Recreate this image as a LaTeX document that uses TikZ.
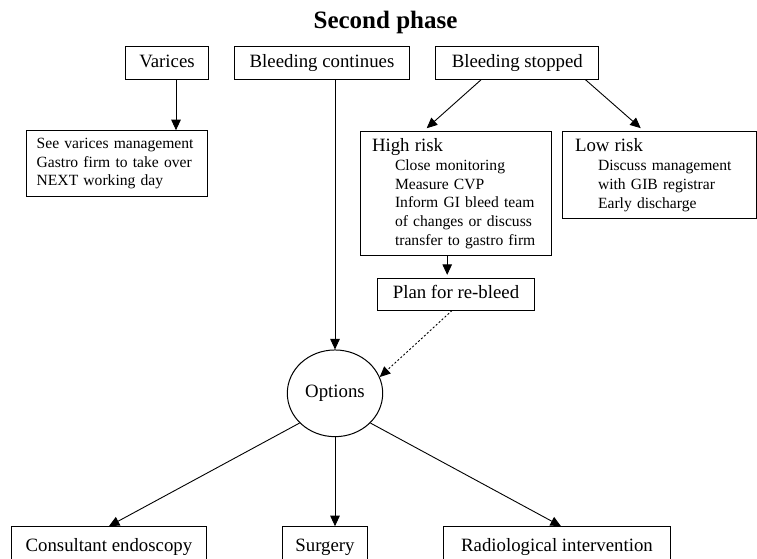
\documentclass[tikz,border=0pt]{standalone}
\usepackage{fontspec}
\setmainfont{Liberation Serif}
\usetikzlibrary{arrows.meta,shapes.geometric}
\newcommand{\boxline}{1pt}
\newcommand{\mainsize}{\fontsize{18.8}{20}\selectfont}
\newcommand{\smallsize}{\fontsize{15.6}{18.8}\selectfont}

\begin{document}
\begin{tikzpicture}[x=1pt,y=-1pt,
    frame/.style={draw, rectangle, line width=\boxline, inner sep=0pt},
    box/.style={frame, font=\mainsize, text height=13pt, text depth=4pt},
    notebox/.style={frame, align=left, font=\smallsize},
    pointer/.style={line width=.9pt, -{Triangle[length=10.5pt,width=9.5pt]}}]
        \useasboundingbox (0,0) rectangle (757,558);
        \clip (0,0) rectangle (757,558);

        \node (title) at (385.5,28.3) [anchor=base, font=\bfseries\fontsize{25}{28}\selectfont] {Second phase};

          % top row
        \node (varices) at (167,62.9) [box, minimum width=82.6, minimum height=32.3] {Varices};
        \node (continues) at (322,62.9) [box, minimum width=174.6, minimum height=32.3] {Bleeding continues};
        \node (stopped) at (517.3,62.9) [box, minimum width=162.7, minimum height=32.3] {Bleeding stopped};

        \node (variceplan) at (116.5,163.7) [notebox, minimum width=181, minimum height=66, inner xsep=10.7pt, text width=159.6]
        {See varices management\\Gastro firm to take over\\NEXT working day};
        \node (highrisk) at (456.2,193.7) [notebox, minimum width=191, minimum height=124, inner xsep=11.3pt, text width=168.4]
        {{\mainsize High risk}\\\hspace*{23pt}Close monitoring\\\hspace*{23pt}Measure CVP\\\hspace*{23pt}Inform GI bleed team\\
         \hspace*{23pt}of changes or discuss\\\hspace*{23pt}transfer to gastro firm};
        \node (lowrisk) at (659.2,175.3) [notebox, minimum width=193.7, minimum height=87.3, inner xsep=12.7pt, text width=168.3]
        {{\mainsize Low risk}\\\hspace*{23pt}Discuss management\\\hspace*{23pt}with GIB registrar\\\hspace*{23pt}Early discharge};
        \node (rebleed) at (456,294.2) [box, minimum width=156.6, minimum height=31.7] {Plan for re-bleed};

        \node (options) at (335,393.3) [draw, ellipse, line width=\boxline, minimum width=95.4, minimum height=86.7, inner sep=0pt, font=\mainsize] {Options};

          % bottom row, cut by the lower edge
        \node (endoscopy) at (108.9,546.7) [box, minimum width=195.7, minimum height=40] {Consultant endoscopy};
        \node (surgery) at (325,546.7) [box, minimum width=84.6, minimum height=40] {Surgery};
        \node (radiological) at (557,546.7) [box, minimum width=227.4, minimum height=40] {Radiological intervention};

        \coordinate (varicesfoot) at ([xshift=9pt]varices.south);
        \coordinate (highfoot) at ([xshift=-9pt]highrisk.south);

        \draw[pointer] (varicesfoot) to (varicesfoot |- variceplan.north);
        \draw[pointer] (options.north |- continues.south) to (options.north);
        \draw[pointer] ([xshift=-36pt]stopped.south) to ([xshift=-29.5pt,yshift=3pt]highrisk.north);
        \draw[pointer] ([xshift=68pt]stopped.south) to ([xshift=-18.5pt,yshift=3pt]lowrisk.north);
        \draw[pointer] (highfoot) to ([yshift=3pt]highfoot |- rebleed.north);
        \draw[pointer, dash pattern=on 2pt off 2pt] ([xshift=-4pt]rebleed.south) to (options.20);

        \draw[pointer] (options.220) to (endoscopy.north);
        \draw[pointer] (options.south) to (options.south |- surgery.north);
        \draw[pointer] (options.320) to ([xshift=4pt]radiological.north);
        \end{tikzpicture}
\end{document}
